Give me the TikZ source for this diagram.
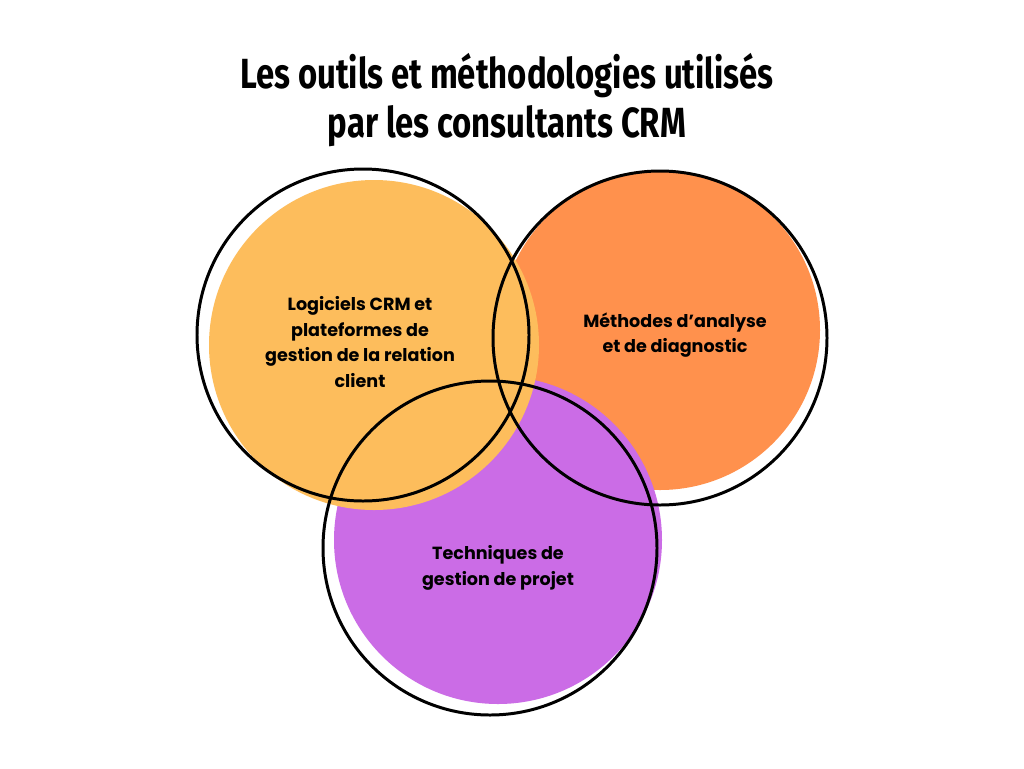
\documentclass[tikz,border=0pt]{standalone}
\usepackage{fontspec}
\setmainfont{Poppins}
\newfontfamily\titlefont{Fira Sans}
\definecolor{cyellow}{HTML}{FDBD5C}
\definecolor{corange}{HTML}{FF914D}
\definecolor{cpurple}{HTML}{CB6CE6}
\tikzset{
  ring/.style={draw=black, line width=1.7pt},
  label/.style={align=center, font=\fontsize{10}{14.5}\selectfont\bfseries}
}
\begin{document}
\begin{tikzpicture}[x=0.02cm, y=-0.02cm]

            % the frame
            \useasboundingbox[fill=white] (0, 0) rectangle (1024, 768);

            % the fills
            \fill[corange] (660, 330) circle (160);
            \fill[cpurple] (498, 540) circle (164);
            \fill[cyellow] (374, 345) circle (165);

            % the rings
            \draw[ring] (363, 335) circle (166);
            \draw[ring] (660, 338) circle (167);
            \draw[ring] (490, 548) circle (167);

            % title
            \node[align=center, font=\titlefont\fontsize{24}{28}\selectfont\bfseries] (title) at (507, 100)
                {\scalebox{0.78}[1]{Les outils et méthodologies utilisés}\\ \scalebox{0.78}[1]{par les consultants CRM}};

            % labels
            \node[label] (crm) at (360, 342) {Logiciels CRM et\\plateformes de\\gestion de la relation\\client};
            \node[label] (analyse) at (675, 335) {Méthodes d'analyse\\et de diagnostic};
            \node[label] (projet) at (498, 568) {Techniques de\\gestion de projet};

        \end{tikzpicture}
\end{document}
